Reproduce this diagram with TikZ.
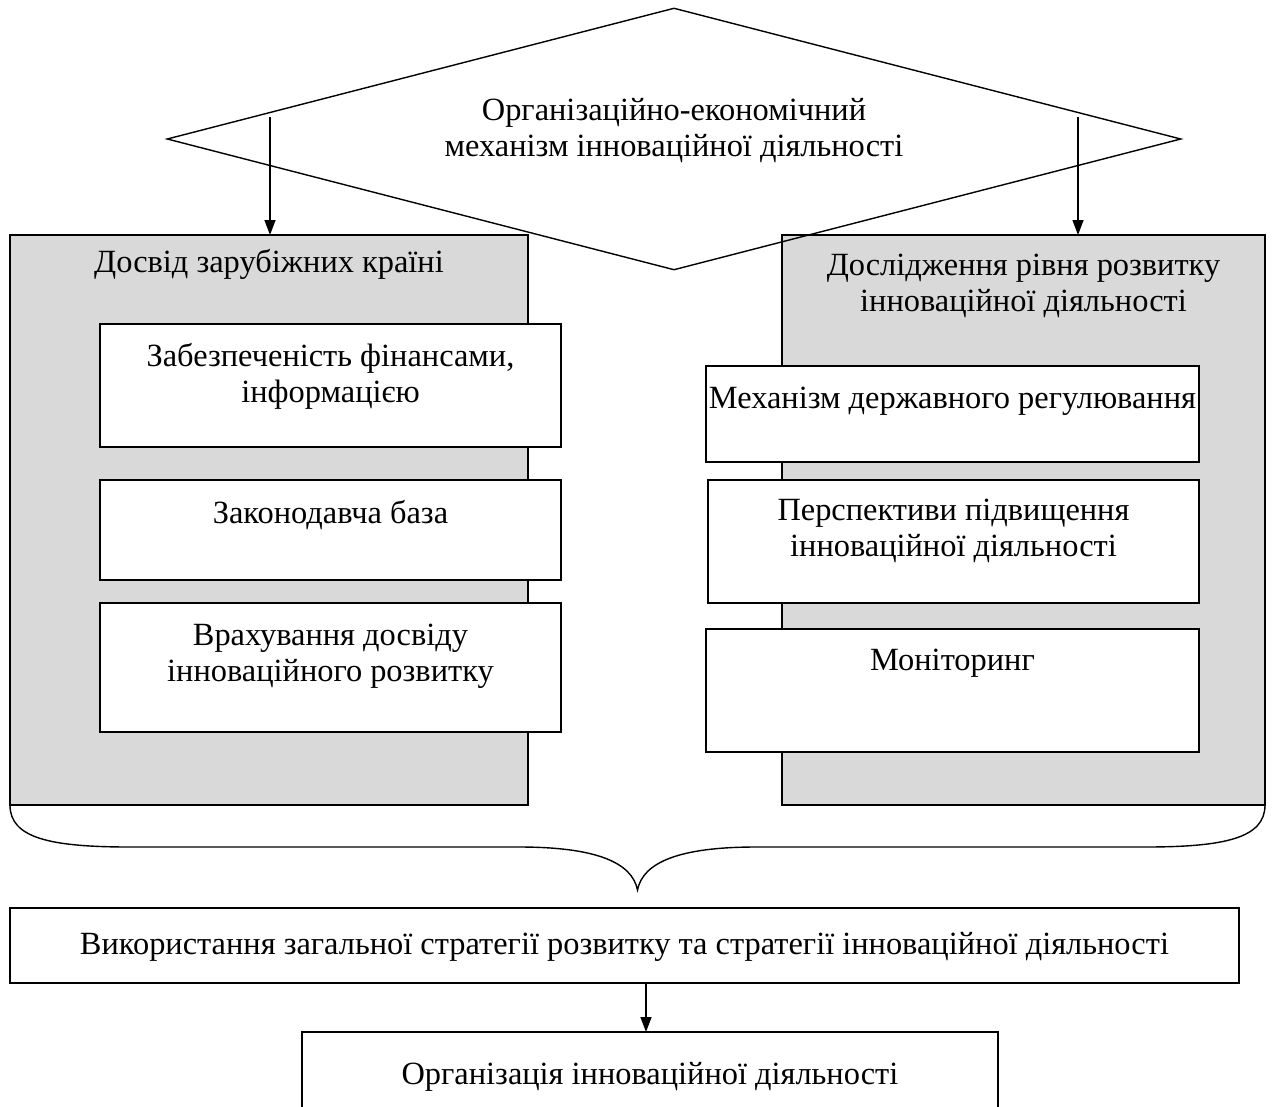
\documentclass[tikz,border=0pt]{standalone}
\usepackage{fontspec}
\setmainfont{Liberation Serif}
\usetikzlibrary{arrows.meta, shapes.geometric, positioning}
\definecolor{panelgray}{RGB}{217,217,217}

\begin{document}
\begin{tikzpicture}[x=1pt, y=-1pt, line width=1.4pt,
  panel/.style={draw, fill=panelgray, anchor=north west, inner sep=0, outer sep=0},
  wbox/.style={draw, fill=white, anchor=north west, inner sep=0, outer sep=0},
  lbl/.style={anchor=north, inner sep=0, align=center, font=\fontsize{32.4}{36}\selectfont},
  arr/.style={-{Triangle[length=15pt, width=11pt]}}]
\useasboundingbox (0,0) rectangle (1272,1106);
\node[panel, minimum width=518, minimum height=570,
  label={[lbl, yshift=-14]north:Досвід зарубіжних країні}] (exp) at (10,235) {};
\node[panel, minimum width=483, minimum height=570,
  label={[lbl, yshift=-18]north:Дослідження рівня розвитку\\інноваційної діяльності}] (res) at (782,235) {};
\node[wbox, minimum width=461, minimum height=123,
  label={[lbl, yshift=-19]north:Забезпеченість фінансами,\\інформацією}] (fin) at (100,324) {};
\node[wbox, minimum width=461, minimum height=100,
  label={[lbl, yshift=-20]north:Законодавча база}] (law) at (100,480) {};
\node[wbox, minimum width=461, minimum height=129,
  label={[lbl, yshift=-20]north:Врахування досвіду\\інноваційного розвитку}] (acc) at (100,603) {};
\node[wbox, minimum width=493, minimum height=96,
  label={[lbl, yshift=-20]north:Механізм державного регулювання}] (reg) at (706,366) {};
\node[wbox, minimum width=491, minimum height=123,
  label={[lbl, yshift=-18]north:Перспективи підвищення\\інноваційної діяльності}] (persp) at (708,480) {};
\node[wbox, minimum width=493, minimum height=123,
  label={[lbl, yshift=-19]north:Моніторинг}] (mon) at (706,629) {};
\node[draw, diamond, aspect=3.87, minimum width=1014, minimum height=262, inner sep=0] (mech) at (674,139) {};
\node[lbl] (mechtxt) at (674,98) {Організаційно-економічний\\механізм інноваційної діяльності};
\node[wbox, minimum width=1229, minimum height=75,
  label={[lbl, yshift=-24]north:Використання загальної стратегії розвитку та стратегії інноваційної діяльності}] (use) at (10,908) {};
\node[wbox, minimum width=696, minimum height=120,
  label={[lbl, yshift=-30]north:Організація інноваційної діяльності}] (org) at (302,1032) {};
\coordinate (la) at (270,117);
\coordinate (ra) at (1078,117);
\coordinate (tip) at (637.5,890);
\draw[arr] (la) -- (la |- exp.north);
\draw[arr] (ra) -- (ra |- res.north);
\draw (exp.south west) .. controls (10,838) and (50,847) .. (130,847) -- (519,847)
  .. controls (595,847) and (632,862) .. (tip)
  .. controls (643,862) and (680,847) .. (756,847) -- (1145,847)
  .. controls (1225,847) and (1265,838) .. (res.south east);
\draw[arr] (use.south -| 646,0) -- (org.north -| 646,0);
\end{tikzpicture}
\end{document}
